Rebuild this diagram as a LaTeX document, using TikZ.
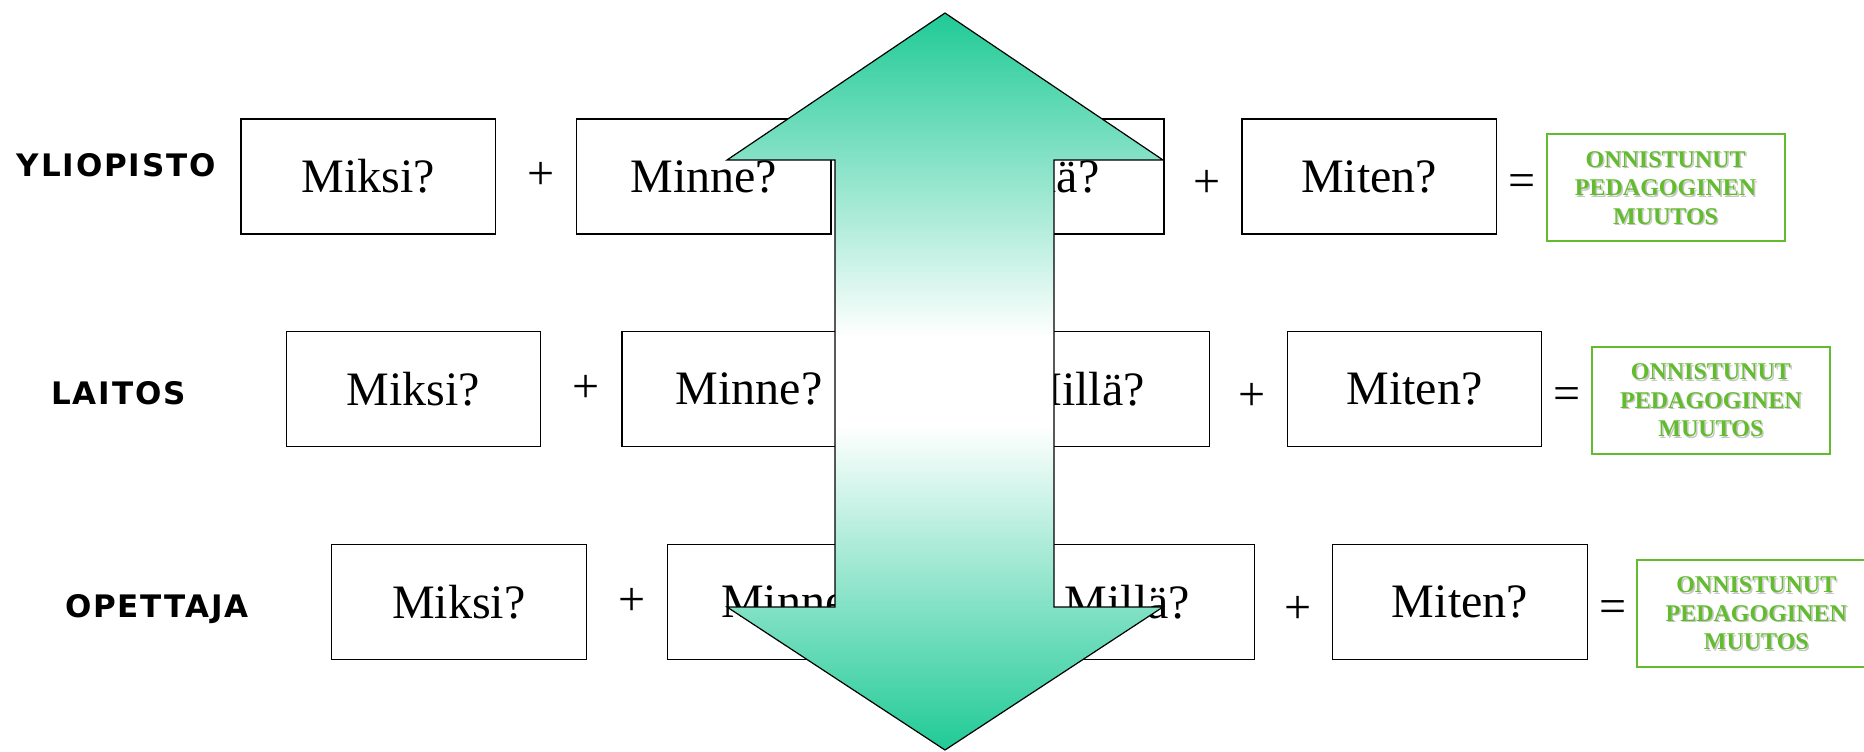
\documentclass[tikz,border=0pt]{standalone}
\usepackage{fontspec}
\setmainfont{Liberation Serif}
\newfontfamily\labfont{DejaVu Sans}[LetterSpace=6]
\definecolor{teal1}{RGB}{32,202,150}
\definecolor{okgreen}{RGB}{98,188,46}
\pgfdeclareverticalshading{arrowshade}{100bp}{color(0bp)=(teal1); color(25bp)=(teal1); color(47bp)=(white); color(53bp)=(white); color(75bp)=(teal1); color(100bp)=(teal1)}
\begin{document}
\begin{tikzpicture}[x=1pt,y=-1pt,
  qbox/.style={draw=black, line width=1.3pt, minimum width=254.5pt, minimum height=115pt, inner sep=0pt, font=\fontsize{48}{56}\selectfont},
  op/.style={inner sep=0pt, font=\fontsize{48}{56}\selectfont},
  lab/.style={inner sep=0pt, anchor=base west, font=\labfont\bfseries\fontsize{31}{36}\selectfont},
  resbox/.style={draw=okgreen, line width=1.8pt, minimum width=238pt, minimum height=107pt, inner sep=0pt, align=center, text=okgreen, font=\bfseries\fontsize{24}{28.5}\selectfont},
  restshadow/.style={inner sep=0pt, align=center, text=black!22, font=\bfseries\fontsize{24}{28.5}\selectfont},
  arrowshape/.style={draw=black, line width=1.2pt, shading=arrowshade}]
\useasboundingbox (0,0) rectangle (1864,752);

\node[lab] (l1) at (16.6,176.3) {YLIOPISTO};
\node[lab] (l2) at (51,404.8) {LAITOS};
\node[lab] (l3) at (65,617.3) {OPETTAJA};

\foreach \r/\dx/\dy in {1/0/0, 2/45.3/212.8, 3/90.7/425.5}{
  \node[qbox] (miksi\r) at (368.25+\dx,176.5+\dy) {Miksi?};
  \node[qbox] (minne\r) at (703.85+\dx,176.5+\dy) {Minne?};
  \node[qbox] (milla\r) at (1036.75+\dx,176.5+\dy) {Millä?};
  \node[qbox] (miten\r) at (1369.25+\dx,176.5+\dy) {Miten?};
  \node[op] (pa\r) at (541+\dx,176+\dy) {+};
  \node[op] (pb\r) at (1207+\dx,184+\dy) {+};
  \node[op] (eq\r) at (1522+\dx,186+\dy) {=};
  \node[restshadow] (gs\r) at (1667.1+\dx,189.3+\dy) {ONNISTUNUT\\PEDAGOGINEN\\MUUTOS};
  \node[resbox] (res\r) at (1665.6+\dx,187.8+\dy) {ONNISTUNUT\\PEDAGOGINEN\\MUUTOS};
}

\path[arrowshape] (945,13) -- (1163,160) -- (1054,160) -- (1054,607) -- (1163,607)
  -- (945,750) -- (727,607) -- (835,607) -- (835,160) -- (727,160) -- cycle;
\end{tikzpicture}
\end{document}
